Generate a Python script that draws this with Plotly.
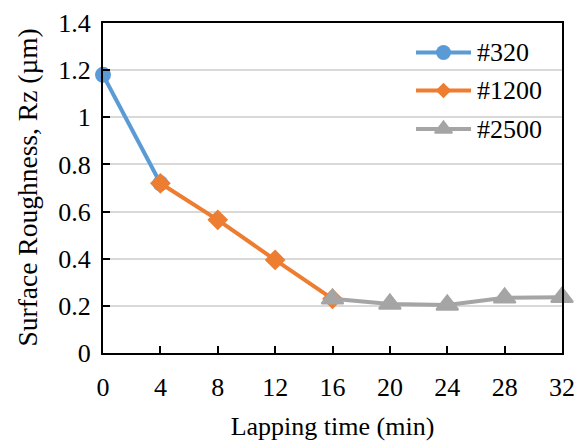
import plotly.graph_objects as go

# Lapping time (min) and surface roughness Rz (µm) for each abrasive grit
time_320 = [0, 4]
rz_320 = [1.18, 0.72]

time_1200 = [4, 8, 12, 16]
rz_1200 = [0.72, 0.565, 0.395, 0.23]

time_2500 = [16, 20, 24, 28, 32]
rz_2500 = [0.23, 0.208, 0.204, 0.234, 0.237]

x_ticks = [0, 4, 8, 12, 16, 20, 24, 28, 32]
y_ticks = [0, 0.2, 0.4, 0.6, 0.8, 1.0, 1.2, 1.4]
y_tick_text = ["0", "0.2", "0.4", "0.6", "0.8", "1", "1.2", "1.4"]

FONT = "Liberation Serif"


def serif(size):
    return dict(family=FONT, size=size, color="black")


W, H = 584, 441
ML, MR, MT, MB = 103, 22, 23, 88
PW, PH = W - ML - MR, H - MT - MB

# name, x, y, colour, symbol, size on plot, size in key, outline width
series = [
    ("#320", time_320, rz_320, "#5B9BD5", "circle", 16, 15, 0),
    ("#1200", time_1200, rz_1200, "#ED7D31", "diamond", 16, 12, 0),
    ("#2500", time_2500, rz_2500, "#A5A5A5", "triangle-up", 19, 15, 2),
]

fig = go.Figure()
for name, xs, ys, color, symbol, size, _, outline in series:
    fig.add_trace(go.Scatter(
        x=xs, y=ys, name=name, mode="lines+markers",
        line=dict(color=color, width=4),
        marker=dict(symbol=symbol, size=size, color=color,
                    line=dict(color=color, width=outline)),
        cliponaxis=False, showlegend=False,
    ))

# Legend key drawn on an overlay axis spanning the plot area in pixels
key_x0, key_x1, key_text_x = 416, 471, 475
key_rows = [52.5, 90.5, 129]
for (name, _, _, color, symbol, _, key_size, outline), row in zip(series, key_rows):
    fig.add_trace(go.Scatter(
        x=[key_x0 - ML, key_x1 - ML], y=[H - MB - row] * 2,
        mode="lines", line=dict(color=color, width=4),
        xaxis="x2", yaxis="y2", showlegend=False, hoverinfo="skip",
        cliponaxis=False,
    ))
    fig.add_trace(go.Scatter(
        x=[(key_x0 + key_x1) / 2 - ML], y=[H - MB - row],
        mode="markers",
        marker=dict(symbol=symbol, size=key_size, color=color,
                    line=dict(color=color, width=outline)),
        xaxis="x2", yaxis="y2", showlegend=False, hoverinfo="skip",
        cliponaxis=False,
    ))
    fig.add_annotation(
        x=key_text_x - ML, y=H - MB - row, xref="x2", yref="y2",
        text=name, showarrow=False, xanchor="left", yanchor="middle",
        font=serif(26),
    )

# Vertical axis title, centred on the plot height
fig.add_annotation(
    x=(26.5 - ML) / PW, y=0.5, xref="paper", yref="paper",
    text="Surface Roughness, Rz (µm)", textangle=-90, showarrow=False,
    xanchor="center", yanchor="middle", font=serif(27.5),
)

fig.update_layout(
    width=W, height=H,
    margin=dict(l=ML, r=MR, t=MT, b=MB),
    paper_bgcolor="white", plot_bgcolor="white",
    font=serif(26),
    showlegend=False,
    xaxis=dict(
        range=[0, 32], tickvals=x_ticks, ticks="inside", ticklen=7,
        tickwidth=1.5, tickcolor="black", showgrid=False,
        showline=True, linecolor="black", linewidth=2, mirror=True,
        zeroline=False, ticklabelstandoff=10, automargin=False,
        title=dict(text="Lapping time (min)", standoff=17, font=serif(26)),
        tickfont=serif(26),
    ),
    yaxis=dict(
        range=[0, 1.4], tickvals=y_ticks,
        ticktext=[t + "\u2009" for t in y_tick_text],
        showgrid=True, gridcolor="#D9D9D9", gridwidth=1.5,
        showline=True, linecolor="black", linewidth=1.5, mirror=True,
        zeroline=False, ticks="inside", ticklen=7, tickwidth=1.5,
        tickcolor="black", automargin=False,
        tickfont=serif(26),
    ),
    xaxis2=dict(overlaying="x", range=[0, PW], visible=False, fixedrange=True),
    yaxis2=dict(overlaying="y", range=[0, PH], visible=False, fixedrange=True),
)

fig.write_html("out.html")
